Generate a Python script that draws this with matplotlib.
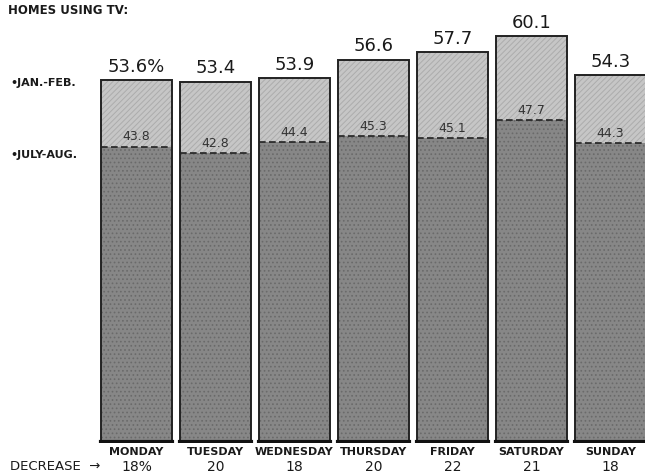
import numpy as np
import matplotlib.pyplot as plt

days = ["MONDAY", "TUESDAY", "WEDNESDAY", "THURSDAY", "FRIDAY", "SATURDAY", "SUNDAY"]
jan_feb = [53.6, 53.4, 53.9, 56.6, 57.7, 60.1, 54.3]
july_aug = [43.8, 42.8, 44.4, 45.3, 45.1, 47.7, 44.3]
decrease = ["18%", "20", "18", "20", "22", "21", "18"]
top_labels = ["53.6%", "53.4", "53.9", "56.6", "57.7", "60.1", "54.3"]

plt.rcParams["hatch.linewidth"] = 0.7

fig = plt.figure(figsize=(6.45, 4.77), dpi=100)
ax = fig.add_axes([0, 33/477, 1, 442/477])
ax.set_xlim(-1.728, 6.437)
ax.set_ylim(0, 65.3)
ax.axis("off")

x = np.arange(len(days))
w = 0.91
jan = np.array(jan_feb)
jul = np.array(july_aug)

# summer part (dark, dotted texture)
ax.bar(x, jul, width=w, color="#878787", edgecolor="#6a6a6a", hatch="....", linewidth=0)
# winter extra part (light, diagonal hatch)
ax.bar(x, jan - jul, bottom=jul, width=w, color="#c6c6c6", edgecolor="#acacac", hatch="//////", linewidth=0)
# outlines
ax.bar(x, jan, width=w, fill=False, edgecolor="#222222", linewidth=1.4)
for i in range(len(days)):
    ax.plot([x[i] - w/2, x[i] + w/2], [jul[i], jul[i]], color="#222222", lw=1.2, ls=(0, (4, 2)))
    ax.plot([x[i] - w/2, x[i] + w/2], [0.2, 0.2], color="#111111", lw=3)
    ax.text(x[i], jan[i] + 0.8, top_labels[i], ha="center", va="bottom", fontsize=13, color="#1a1a1a")
    ax.text(x[i], jul[i] + 0.6, f"{jul[i]:.1f}", ha="center", va="bottom", fontsize=9, color="#333333")

for i in range(len(days)):
    fig.text((x[i] + 1.728) / 8.165, 1 - 452/477, days[i], ha="center", va="center",
             fontsize=8, fontweight="bold", color="#1a1a1a")
    fig.text((x[i] + 1.728) / 8.165, 1 - 467/477, decrease[i], ha="center", va="center",
             fontsize=10, color="#1a1a1a")

fig.text(10/645, 1 - 467/477, "DECREASE  \u2192", ha="left", va="center", fontsize=9.5, color="#1a1a1a")
fig.text(8/645, 1 - 11/477, "HOMES USING TV:", ha="left", va="center", fontsize=8.5, fontweight="bold", color="#1a1a1a")
fig.text(10/645, 1 - 83/477, "\u2022JAN.-FEB.", ha="left", va="center", fontsize=8, fontweight="bold", color="#1a1a1a")
fig.text(10/645, 1 - 155/477, "\u2022JULY-AUG.", ha="left", va="center", fontsize=8, fontweight="bold", color="#1a1a1a")

fig.savefig("out.png", dpi=100)
